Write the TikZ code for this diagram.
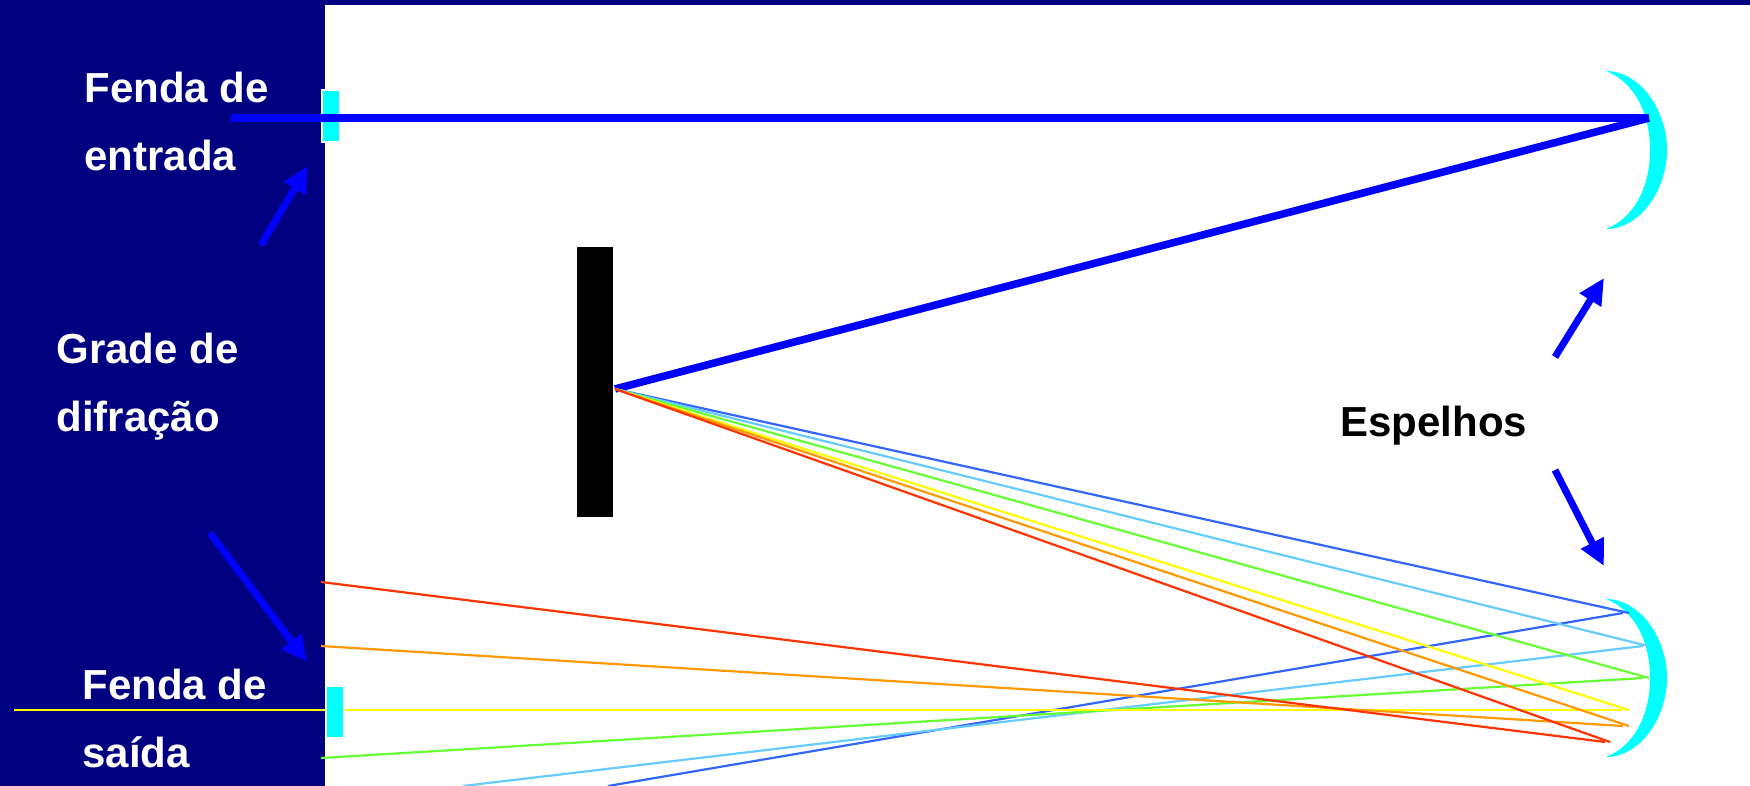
\documentclass[tikz,border=0pt]{standalone}
\usepackage{fontspec}
\setmainfont{Liberation Sans}
\usetikzlibrary{arrows.meta}
\definecolor{spnavy}{RGB}{0,0,128}
\definecolor{spblue}{RGB}{0,0,255}
\definecolor{spcyan}{RGB}{0,255,255}
\definecolor{rayblue}{RGB}{51,102,255}
\definecolor{raysky}{RGB}{102,204,255}
\definecolor{raygreen}{RGB}{102,255,51}
\definecolor{rayyellow}{RGB}{255,255,0}
\definecolor{rayorange}{RGB}{255,153,0}
\definecolor{rayred}{RGB}{255,51,0}
\tikzset{
  lbl/.style={anchor=base west,inner sep=0pt,align=left,font=\fontsize{21}{34}\selectfont\bfseries},
  pointer/.style={draw=spblue,line width=3.5pt,-{Triangle[length=13pt,width=12pt]}},
  beam/.style={draw=spblue,line width=#1},
  ray/.style={draw=#1,line width=1.1pt}
}

\begin{document}
\begin{tikzpicture}[x=.5pt,y=-.5pt]
  \useasboundingbox (0,0) rectangle (1750,786);
  \fill[white] (0,0) rectangle (1750,786);
  \fill[spnavy] (0,0) rectangle (1750,5);
  \fill[spnavy] (0,0) rectangle (325,786);

  % mirrors
  \foreach \m in {150,678}
    \fill[spcyan,shift={(0,\m)}] (1606,-79) .. controls (1640,-79) and (1667,-40) .. (1667,0)
      .. controls (1667,40) and (1640,79) .. (1606,79)
      .. controls (1632,69) and (1650,40) .. (1650,0)
      .. controls (1650,-40) and (1632,-69) .. (1606,-79) -- cycle;

  % grating and slits
  \fill[black] (577,247) rectangle (613,517);
  \fill[white] (321,89) rectangle (341,143);
  \fill[spcyan] (323,91) rectangle (339,141);
  \fill[white] (325,685) rectangle (345,739);
  \fill[spcyan] (327,687) rectangle (343,737);

  % entrance beam
  \coordinate (lampa) at (231,118);
  \coordinate (topo) at (1649,118);
  \coordinate (grade) at (615,389);
  \draw[beam=4pt] (lampa) -- (topo);
  \draw[beam=3.8pt] (topo) -- (grade);

  % dispersed rays
  \foreach \c/\hx/\hy/\bx/\by/\ex/\ey in {
      rayblue/1629/613/1623/613/608/786,
      raysky/1648/646/1643/646/463/786,
      raygreen/1649/678/1643/678/321/758,
      rayyellow/1629/710/1623/710/345/710,
      rayorange/1629/726/1623/726/321/646,
      rayred/1610/742/1605/742/321/582} {
    \coordinate (h\c) at (\hx,\hy);
    \coordinate (b\c) at (\bx,\by);
    \coordinate (e\c) at (\ex,\ey);
    \draw[ray=\c] (grade) -- (h\c);
    \draw[ray=\c] (b\c) -- (e\c);
  }
  \coordinate (saidaA) at (14,710);
  \coordinate (saidaB) at (325,710);
  \draw[ray=rayyellow] (saidaA) -- (saidaB);

  % labels
  \node[lbl,text=white] (entrada) at (84,171) {Fenda de\\entrada};
  \node[lbl,text=white] (difracao) at (56,431) {Grade de\\difração};
  \node[lbl,text=white] (saida) at (82,767) {Fenda de\\saída};
  \node[lbl,text=black] (espelhos) at (1340,436) {Espelhos};

  % pointers
  \coordinate (p1a) at (261,245); \coordinate (p1b) at (308,166);
  \coordinate (p2a) at (210,533); \coordinate (p2b) at (307,662);
  \coordinate (p3a) at (1555,357); \coordinate (p3b) at (1604,278);
  \coordinate (p4a) at (1555,470); \coordinate (p4b) at (1604,566);
  \draw[pointer] (p1a) -- (p1b);
  \draw[pointer] (p2a) -- (p2b);
  \draw[pointer] (p3a) -- (p3b);
  \draw[pointer] (p4a) -- (p4b);
\end{tikzpicture}
\end{document}
